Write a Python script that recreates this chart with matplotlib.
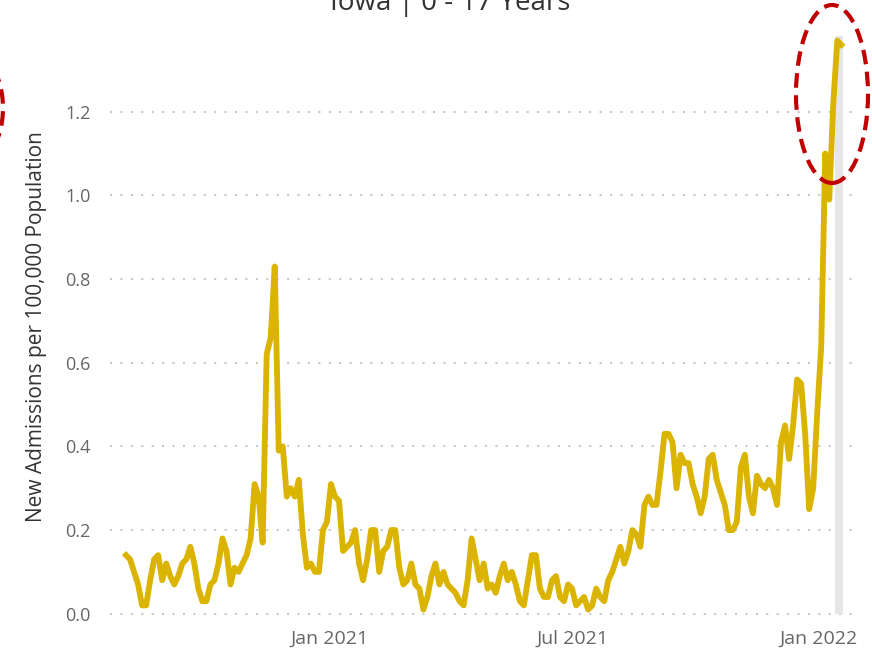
import matplotlib
matplotlib.use('Agg')
import matplotlib.pyplot as plt
import matplotlib.dates as mdates
from matplotlib.patches import Ellipse
import pandas as pd

plt.rcParams['font.family'] = ['Open Sans', 'DejaVu Sans']

# Chart data (one value every 3 days)
start_date = '2020-08-02'
admissions = [
    0.14, 0.13, 0.10, 0.07, 0.02, 0.02, 0.08, 0.13, 0.14, 0.08,
    0.12, 0.09, 0.07, 0.09, 0.12, 0.13, 0.16, 0.12, 0.06, 0.03,
    0.03, 0.07, 0.08, 0.12, 0.18, 0.15, 0.07, 0.11, 0.10, 0.12,
    0.14, 0.18, 0.31, 0.28, 0.17, 0.62, 0.66, 0.83, 0.39, 0.40,
    0.28, 0.30, 0.28, 0.32, 0.19, 0.11, 0.12, 0.10, 0.10, 0.20,
    0.22, 0.31, 0.28, 0.27, 0.15, 0.16, 0.17, 0.20, 0.12, 0.08,
    0.13, 0.20, 0.20, 0.10, 0.15, 0.16, 0.20, 0.20, 0.11, 0.07,
    0.08, 0.12, 0.07, 0.06, 0.01, 0.04, 0.09, 0.12, 0.07, 0.10,
    0.07, 0.06, 0.05, 0.03, 0.02, 0.08, 0.18, 0.13, 0.08, 0.12,
    0.06, 0.07, 0.05, 0.09, 0.12, 0.08, 0.10, 0.07, 0.03, 0.02,
    0.08, 0.14, 0.14, 0.06, 0.04, 0.04, 0.08, 0.09, 0.04, 0.03,
    0.07, 0.06, 0.02, 0.03, 0.04, 0.01, 0.02, 0.06, 0.04, 0.03,
    0.08, 0.10, 0.13, 0.16, 0.12, 0.15, 0.20, 0.19, 0.16, 0.26,
    0.28, 0.26, 0.26, 0.34, 0.43, 0.43, 0.41, 0.30, 0.38, 0.36,
    0.36, 0.31, 0.28, 0.24, 0.28, 0.37, 0.38, 0.32, 0.29, 0.26,
    0.20, 0.20, 0.22, 0.35, 0.38, 0.28, 0.24, 0.33, 0.31, 0.30,
    0.32, 0.30, 0.26, 0.41, 0.45, 0.37, 0.45, 0.56, 0.55, 0.43,
    0.25, 0.30, 0.48, 0.64, 1.10, 0.99, 1.22, 1.37, 1.36,
]
dates = pd.date_range(start_date, periods=len(admissions), freq='3D')

# highlighted latest week (grey bar)
highlight_date = pd.Timestamp('2022-01-16 12:00')
highlight_height = 1.38

title_text = 'Iowa | 0 - 17 Years'
ylabel_text = 'New Admissions per 100,000 Population'
y_ticks = [0.0, 0.2, 0.4, 0.6, 0.8, 1.0, 1.2]
x_ticks = ['2021-01-01', '2021-07-01', '2022-01-01']

fig = plt.figure(figsize=(8.72, 6.51), dpi=100)
ax = fig.add_axes([0.1261, 0.0476, 0.851, 0.9286])

ax.bar(highlight_date, highlight_height, width=6, color='#E6E6E6', zorder=1)
ax.plot(dates, admissions, color='#DAB400', lw=4.2, zorder=3)

ax.set_xlim(pd.Timestamp('2020-07-21'), pd.Timestamp('2022-01-26'))
ax.set_ylim(-0.015, 1.43)

ax.set_yticks(y_ticks)
ax.set_yticklabels([f'{t:.1f}' for t in y_ticks])
ax.set_xticks(pd.to_datetime(x_ticks))
ax.xaxis.set_major_formatter(mdates.DateFormatter('%b %Y'))

ax.yaxis.grid(True, color='#C8C8C8', linestyle=(0, (1, 4)), lw=1.5, zorder=0)
ax.set_axisbelow(True)
for s in ax.spines.values():
    s.set_visible(False)
ax.tick_params(axis='y', length=0, pad=14, labelsize=13, labelcolor='#666666')
ax.tick_params(axis='x', length=0, pad=7, labelsize=14, labelcolor='#666666')

ax.set_ylabel(ylabel_text, fontsize=15, color='#333333')
ax.yaxis.set_label_coords(-0.085, 0.485)

# title sits at the very top edge, as in the reference
fig.text(0.516, 1 - 10 / 651, title_text, ha='center', va='baseline',
         fontsize=20, color='#333333')

# red dashed annotation ellipses
red = '#C00000'
fig.add_artist(Ellipse((832 / 872, 1 - 94 / 651), 72 / 872, 178 / 651,
                       transform=fig.transFigure, fill=False, ec=red,
                       lw=3, ls=(0, (3.5, 1.8)), zorder=10))
fig.add_artist(Ellipse((-40 / 872, 1 - 108 / 651), 86 / 872, 126 / 651,
                       transform=fig.transFigure, fill=False, ec=red,
                       lw=3, ls=(0, (3.5, 1.8)), zorder=10))

fig.savefig('out.png', dpi=100)
